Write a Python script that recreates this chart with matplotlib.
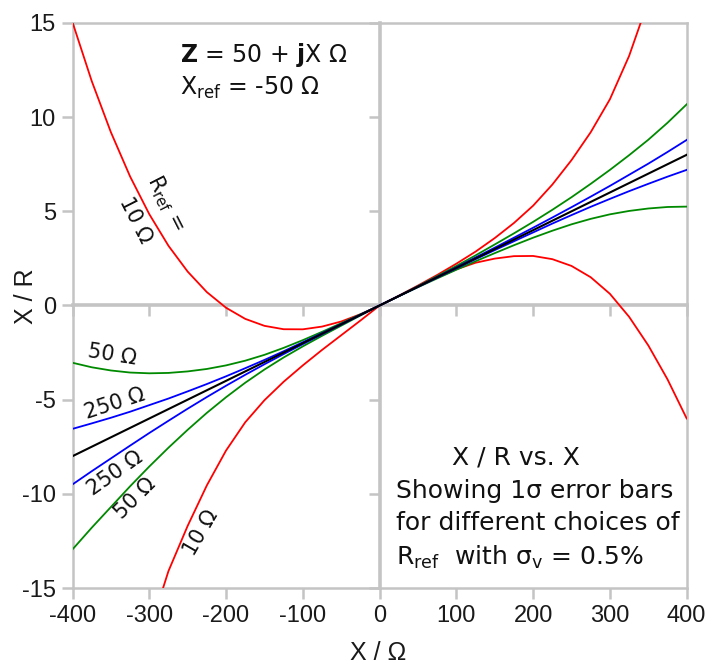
import matplotlib
matplotlib.use("Agg")
import matplotlib.pyplot as plt

plt.rcParams['axes.unicode_minus'] = False
plt.rcParams['mathtext.fontset'] = 'dejavusans'

# ---------------- data ----------------
x_grid = [-400, -375, -350, -325, -300, -275, -250, -225, -200, -175, -150,
          -125, -100, -75, -50, -25, 0, 25, 50, 75, 100, 125, 150, 175, 200,
          225, 250, 275, 300, 325, 350, 375, 400]

# centre line X/R (Z = 50 + jX)
x_center = [-400, 400]
y_center = [-8.0, 8.0]

# Rref = 10 ohm, upper bound
x_r10_up = [-400, -375, -350, -325, -300, -275, -250, -225, -200, -175, -150,
            -125, -100, -75, -50, -25, 0, 25, 50, 75, 100, 125, 150, 175, 200,
            225, 250, 275, 300, 325, 340]
y_r10_up = [15.04, 11.92, 9.2, 6.85, 4.85, 3.17, 1.80, 0.71, -0.12, -0.71, -1.08,
            -1.26, -1.265, -1.12, -0.85, -0.465, 0.0, 0.52, 1.06, 1.62, 2.22, 2.86,
            3.58, 4.38, 5.3, 6.42, 7.72, 9.2, 10.95, 13.25, 15.0]

# Rref = 10 ohm, lower bound
x_r10_lo = [-300, -275, -250, -225, -200, -175, -150, -125, -100, -75, -50, -25,
            0, 25, 50, 75, 100, 125, 150, 175, 200, 225, 250, 275, 300, 325, 350,
            375, 400]
y_r10_lo = [-17.3, -14.1, -11.7, -9.55, -7.7, -6.2, -5.03, -4.05, -3.18, -2.36,
            -1.58, -0.8, 0.0, 0.5, 0.99, 1.47, 1.92, 2.27, 2.49, 2.62, 2.63, 2.46,
            2.1, 1.5, 0.62, -0.6, -2.12, -3.92, -6.0]

# Rref = 50 ohm
y_r50_up = [-3.04, -3.28, -3.45, -3.56, -3.6, -3.58, -3.5, -3.37, -3.18, -2.93,
            -2.62, -2.25, -1.84, -1.4, -0.94, -0.47, 0.0, 0.51, 1.03, 1.56, 2.1,
            2.66, 3.24, 3.83, 4.44, 5.08, 5.75, 6.46, 7.2, 7.98, 8.8, 9.7, 10.68]
y_r50_lo = [-12.95, -11.8, -10.7, -9.6, -8.55, -7.55, -6.6, -5.7, -4.87, -4.1,
            -3.4, -2.76, -2.17, -1.61, -1.07, -0.53, 0.0, 0.49, 0.97, 1.44, 1.9,
            2.35, 2.78, 3.2, 3.6, 3.97, 4.31, 4.6, 4.84, 5.02, 5.15, 5.23, 5.25]

# Rref = 250 ohm
y_r250_up = [-6.55, -6.26, -5.96, -5.64, -5.29, -4.94, -4.56, -4.17, -3.76, -3.33,
             -2.89, -2.43, -1.95, -1.47, -0.98, -0.49, 0.0, 0.5, 1.01, 1.52, 2.03,
             2.55, 3.07, 3.6, 4.13, 4.67, 5.22, 5.78, 6.35, 6.94, 7.53, 8.15, 8.79]
y_r250_lo = [-9.5, -8.8, -8.12, -7.44, -6.77, -6.12, -5.48, -4.86, -4.26, -3.68,
             -3.12, -2.58, -2.05, -1.53, -1.02, -0.51, 0.0, 0.5, 0.99, 1.48, 1.97,
             2.46, 2.94, 3.41, 3.88, 4.35, 4.8, 5.24, 5.66, 6.07, 6.46, 6.84, 7.2]

x_ticks = [-400, -300, -200, -100, 0, 100, 200, 300, 400]
y_ticks = [-15, -10, -5, 0, 5, 10, 15]

# ---------------- figure ----------------
fig = plt.figure(figsize=(7.15, 6.66), dpi=100)
ax = fig.add_axes([0.1014, 0.1171, 0.859, 0.8484])
ax.set_xlim(-400, 400)
ax.set_ylim(-15, 15)

grey = '#c4c4c4'
for s in ax.spines.values():
    s.set_color(grey)
    s.set_linewidth(1.8)

ax.set_xticks(x_ticks)
ax.set_yticks(y_ticks)
ax.set_xticklabels([str(v) for v in x_ticks])
ax.set_yticklabels([str(v) for v in y_ticks])
ax.tick_params(axis='both', direction='out', length=8, width=1.8, color=grey,
               labelsize=17, labelcolor='#1a1a1a', pad=4)
for lab in ax.get_xticklabels() + ax.get_yticklabels():
    lab.set_family('Liberation Sans')

# zero axes with their own tick marks
secx = ax.secondary_xaxis(0, transform=ax.transData)
secx.set_xticks(x_ticks)
secx.set_xticklabels([])
secx.tick_params(direction='out', length=8, width=1.8, color=grey)
secx.spines['bottom'].set_color(grey)
secx.spines['bottom'].set_linewidth(2.6)

secy = ax.secondary_yaxis(0, transform=ax.transData)
secy.set_yticks(y_ticks)
secy.set_yticklabels([])
secy.tick_params(direction='out', length=8, width=1.8, color=grey)
secy.spines['left'].set_color(grey)
secy.spines['left'].set_linewidth(2.6)

lw = 1.3
ax.plot(x_r10_up, y_r10_up, color='#ff0000', lw=lw, zorder=3)
ax.plot(x_r10_lo, y_r10_lo, color='#ff0000', lw=lw, zorder=3)
ax.plot(x_grid, y_r50_up, color='#008a00', lw=lw, zorder=3)
ax.plot(x_grid, y_r50_lo, color='#008a00', lw=lw, zorder=3)
ax.plot(x_grid, y_r250_up, color='#0000ff', lw=lw, zorder=3)
ax.plot(x_grid, y_r250_lo, color='#0000ff', lw=lw, zorder=3)
ax.plot(x_center, y_center, color='black', lw=1.5, zorder=4)

# ---------------- texts ----------------
tfont = dict(family='DejaVu Sans', color='#111111')
T = ax.transAxes
ax.text(0.175, 0.943, r'$\mathbf{Z}$ = 50 + $\mathbf{j}$X Ω', transform=T,
        fontsize=17, ha='left', va='center', **tfont)
ax.text(0.175, 0.885, r'X$_{\mathregular{ref}}$ = -50 Ω', transform=T,
        fontsize=17, ha='left', va='center', **tfont)

ax.text(0.152, 0.681, r'R$_{\mathregular{ref}}$ =', transform=T, fontsize=15,
        rotation=-63, ha='center', va='center', rotation_mode='anchor', **tfont)
ax.text(0.1018, 0.651, '10 Ω', transform=T, fontsize=15,
        rotation=-63, ha='center', va='center', rotation_mode='anchor', **tfont)

ax.text(0.0643, 0.412, '50 Ω', transform=T, fontsize=15, rotation=-9,
        ha='center', va='center', rotation_mode='anchor', **tfont)
ax.text(0.069, 0.327, '250 Ω', transform=T, fontsize=15, rotation=18,
        ha='center', va='center', rotation_mode='anchor', **tfont)
ax.text(0.069, 0.2035, '250 Ω', transform=T, fontsize=15, rotation=35,
        ha='center', va='center', rotation_mode='anchor', **tfont)
ax.text(0.1018, 0.159, '50 Ω', transform=T, fontsize=15, rotation=45,
        ha='center', va='center', rotation_mode='anchor', **tfont)
ax.text(0.209, 0.097, '10 Ω', transform=T, fontsize=15, rotation=60,
        ha='center', va='center', rotation_mode='anchor', **tfont)

def fx(px):
    return (px - 72.5) / 614.2

def fy(py):
    return (588.0 - py) / 565.0

ax.text(fx(452), fy(457), 'X / R vs. X', transform=T, fontsize=18,
        ha='left', va='center', **tfont)
ax.text(fx(396), fy(491), 'Showing 1σ error bars', transform=T, fontsize=18,
        ha='left', va='center', **tfont)
ax.text(fx(396), fy(523), 'for different choices of', transform=T, fontsize=18,
        ha='left', va='center', **tfont)
ax.text(fx(396), fy(557), r'R$_{\mathregular{ref}}$  with σ$_{\mathregular{v}}$ = 0.5%',
        transform=T, fontsize=18, ha='left', va='center', **tfont)

fig.text(378 / 715, 1 - 653 / 666, 'X / Ω', fontsize=18, family='Liberation Sans',
         color='#1a1a1a', ha='center', va='center')
fig.text(26 / 715, 1 - 296 / 666, 'X / R', fontsize=18, family='Liberation Sans',
         color='#1a1a1a', ha='center', va='center', rotation=90)

fig.savefig('out.png', dpi=100)
